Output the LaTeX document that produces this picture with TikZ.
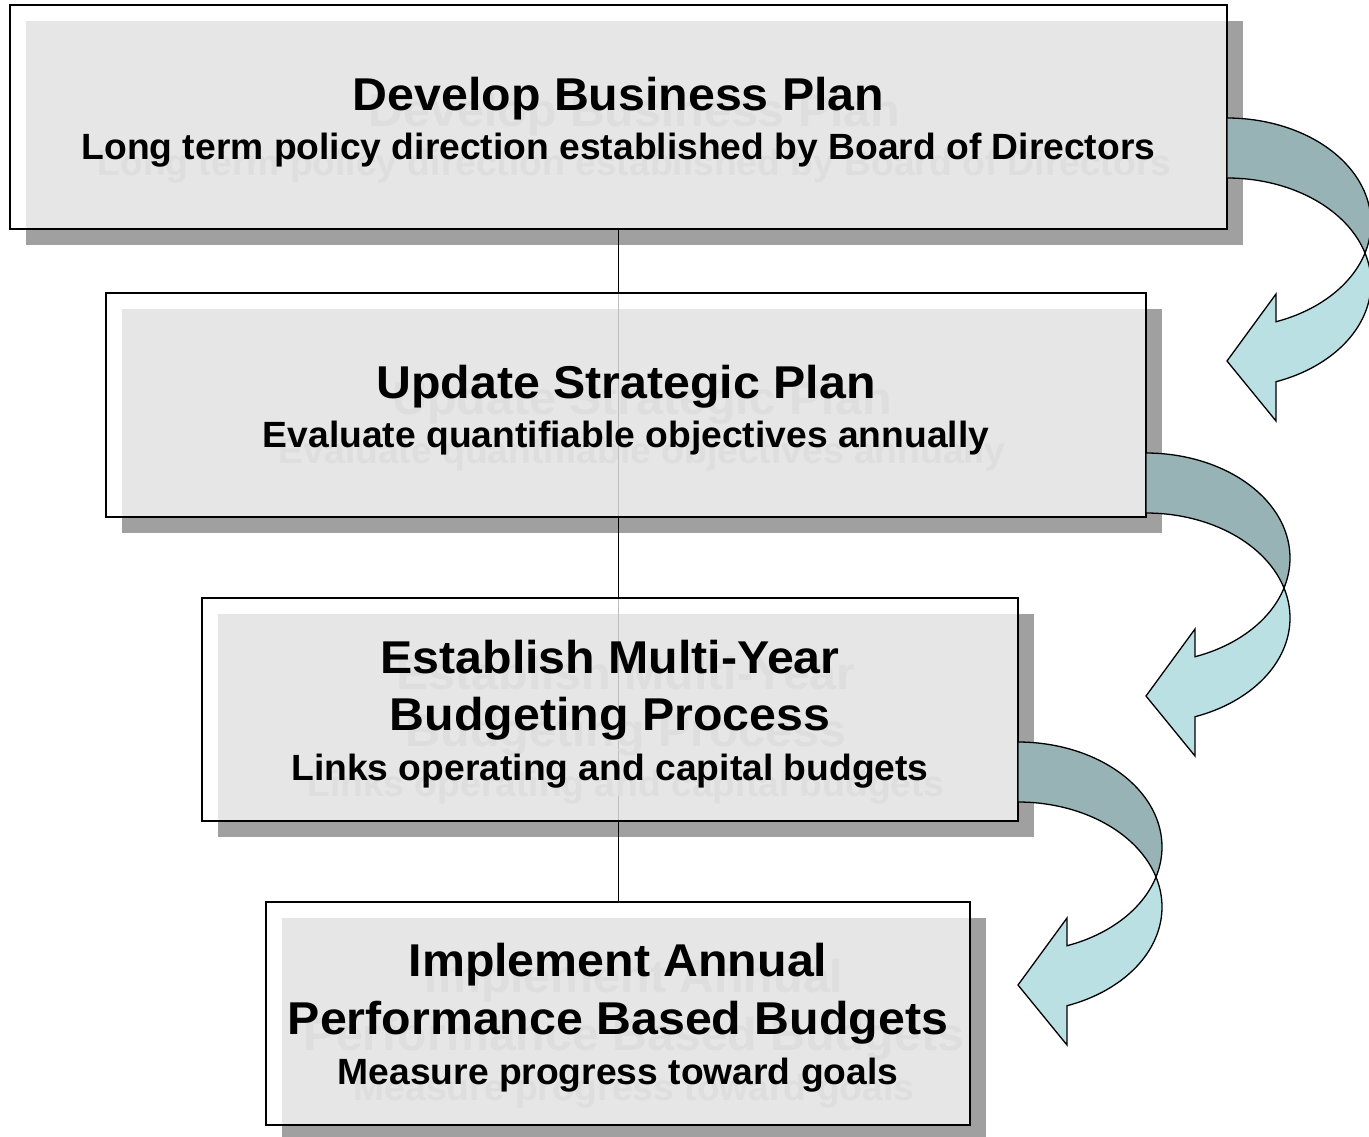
\documentclass[tikz,border=0pt]{standalone}
\usepackage{fontspec}
\setmainfont{Liberation Sans}
\definecolor{shadowgray}{HTML}{A0A0A0}
\definecolor{ghostgray}{HTML}{DEDEDE}
\definecolor{ribbonback}{HTML}{97B3B6}
\definecolor{ribbonfront}{HTML}{BBE0E3}
% title and subtitle type
\newcommand\boxtitle[1]{\scalebox{1.05}[1]{\fontsize{46}{46}\selectfont\bfseries #1}}
\newcommand\boxsub[1]{\scalebox{1.02}[1]{\fontsize{36.5}{36.5}\selectfont\bfseries #1}}
% one text line with its faint offset copy
\newcommand\stepline[4]{%
  \node[ghostline] (#1g) at (#2+16,#3+16) {#4};
  \node[mainline] (#1) at (#2,#3) {#4};}
% curved ribbon arrow, drawn in local coordinates and shifted
\newcommand\ribbonarrow[3]{%
  \begin{scope}[shift={(#2,#3)}]
    \coordinate (#1) at (1018,742);
    \path[ribbon,fill=ribbonback]
      plot[domain=90:-16.6,samples=60,variable=\t] ({1018+144*cos(\t)},{847-105*sin(\t)})
      -- plot[domain=16.6:90,samples=60,variable=\t] ({1018+144*cos(\t)},{907-105*sin(\t)})
      -- cycle;
    \path[ribbon,fill=ribbonfront]
      plot[domain=-16.6:-70.11,samples=60,variable=\t] ({1018+144*cos(\t)},{847-105*sin(\t)})
      -- (1067,918) -- (1018,985) -- (1067,1045)
      -- plot[domain=-70.11:16.6,samples=60,variable=\t] ({1018+144*cos(\t)},{907-105*sin(\t)})
      -- cycle;
  \end{scope}}
\begin{document}
\begin{tikzpicture}[x=1pt,y=-1pt,
  shadowrect/.style={fill=shadowgray,draw=none,inner sep=0pt,outer sep=0pt},
  stepbox/.style={fill=white,fill opacity=0.74,draw=black,draw opacity=1,line width=1.5pt,inner sep=0pt,outer sep=0pt},
  mainline/.style={anchor=base,inner sep=0pt,text=black},
  ghostline/.style={anchor=base,inner sep=0pt,text=ghostgray},
  conn/.style={draw=black,line width=1.5pt},
  ribbon/.style={draw=black,line width=1.3pt,line join=miter}]
\useasboundingbox (0,0) rectangle (1369,1136);

% drop shadows
\node[shadowrect,minimum width=1217pt,minimum height=224pt] (s1) at (634.5,133) {};
\node[shadowrect,minimum width=1040pt,minimum height=224pt] (s2) at (642,421) {};
\node[shadowrect,minimum width=816pt,minimum height=223pt] (s3) at (626,725.5) {};
\node[shadowrect,minimum width=704pt,minimum height=223pt] (s4) at (634,1029.5) {};

% step boxes and the spine that links them
\coordinate (top) at (618.5,229);
\coordinate (bottom) at (618.5,902);
\draw[conn] (top) -- (bottom);
\node[stepbox,minimum width=1217pt,minimum height=224pt] (b1) at (618.5,117) {};
\node[stepbox,minimum width=1040pt,minimum height=224pt] (b2) at (626,405) {};
\node[stepbox,minimum width=816pt,minimum height=223pt] (b3) at (610,709.5) {};
\node[stepbox,minimum width=704pt,minimum height=223pt] (b4) at (618,1013.5) {};

% texts
\stepline{t1a}{618.5}{110}{\boxtitle{Develop Business Plan}}
\stepline{t1b}{618.5}{159}{\boxsub{Long term policy direction established by Board of Directors}}
\stepline{t2a}{626}{398}{\boxtitle{Update Strategic Plan}}
\stepline{t2b}{626}{447}{\boxsub{Evaluate quantifiable objectives annually}}
\stepline{t3a}{610}{673}{\boxtitle{Establish Multi-Year}}
\stepline{t3b}{610}{730}{\boxtitle{Budgeting Process}}
\stepline{t3c}{610}{780}{\boxsub{Links operating and capital budgets}}
\stepline{t4a}{618}{976}{\boxtitle{Implement Annual}}
\stepline{t4b}{618}{1034}{\boxtitle{Performance Based Budgets}}
\stepline{t4c}{618}{1084}{\boxsub{Measure progress toward goals}}

% curved arrows between steps
\ribbonarrow{a1}{209}{-624}
\ribbonarrow{a2}{128}{-289}
\ribbonarrow{a3}{0}{0}
\end{tikzpicture}
\end{document}
